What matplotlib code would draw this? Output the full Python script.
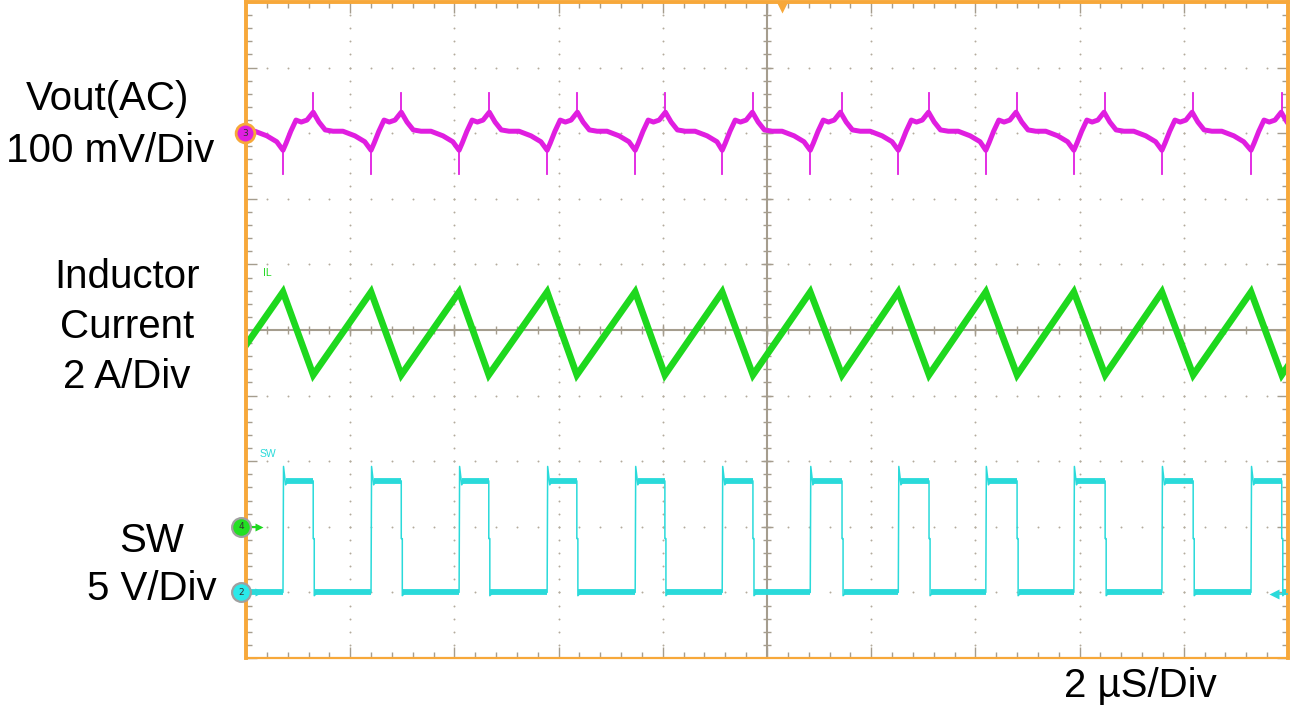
import matplotlib
matplotlib.use("Agg")
import matplotlib.pyplot as plt
import numpy as np

# ---------------- data ----------------
# time base 2 us/div, 10 divisions -> 0..20 us
# switching edges (us); first entry of each list is the off-screen previous cycle
sw_rise_us = [-0.98, 0.71, 2.40, 4.09, 5.78, 7.47, 9.14, 10.83, 12.52, 14.20, 15.89, 17.58, 19.29, 20.98]
sw_fall_us = [-0.40, 1.29, 2.98, 4.66, 6.35, 8.04, 9.73, 11.44, 13.11, 14.80, 16.49, 18.18, 19.88]

# SW node levels (V), 5 V/div
sw_low_v = 0.0
sw_high_v = 8.5
sw_overshoot_v = 9.6
sw_kink_v = 4.1

# inductor current extremes (A), 2 A/div
il_peak_a = 1.16
il_valley_a = -1.37

# Vout(AC) ripple over one switching cycle, relative to the rising edge (us, mV)
vout_t_us = [0.00, 0.06, 0.15, 0.25, 0.35, 0.46, 0.58, 0.69, 0.81, 0.96, 1.15, 1.38, 1.57]
vout_mv = [-26, -15, 3, 20, 17, 20, 32, 17, 5, 3, 3, -4, -13]
vout_dip_mv = -62     # spike at the rising edge
vout_spike_mv = 61    # spike at the falling edge
vout_fall_mv = 32     # level at the falling edge

# channel scales and positions (divisions from screen centre)
vout_mv_per_div, vout_pos = 100.0, 3.0
il_a_per_div, il_pos = 2.0, 0.0
sw_v_per_div, sw_pos = 5.0, -4.0

# colours
c_vout = "#E01EE0"
c_il = "#1ED81E"
c_sw = "#2ADADA"
c_frame = "#F7A83A"
c_grid = "#A59D8E"

# ---------------- figure ----------------
W, H = 1293, 710
fig = plt.figure(figsize=(W / 100, H / 100), dpi=100)
fig.patch.set_facecolor("white")
L, R, T, B = 246, 1288, 2, 658
ax = fig.add_axes([L / W, 1 - B / H, (R - L) / W, (B - T) / H])
ax.set_xlim(0, 20)
ax.set_ylim(-5, 5)

for side, sp in ax.spines.items():
    sp.set_color(c_frame)
    sp.set_linewidth(1.6 if side == "bottom" else 2.8)
    sp.set_zorder(6)

ax.set_xticks(np.arange(0, 20.01, 2))
ax.set_xticks(np.arange(0, 20.01, 0.4), minor=True)
ax.set_yticks(np.arange(-5, 5.01, 1))
ax.set_yticks(np.arange(-5, 5.01, 0.2), minor=True)
ax.tick_params(which="both", direction="in", top=True, right=True, bottom=True, left=True,
               color=c_grid, width=1.0, labelbottom=False, labelleft=False)
ax.tick_params(which="major", length=8)
ax.tick_params(which="minor", length=4)

# grid dots
xm = np.arange(0, 20.01, 0.4)
ym = np.arange(-5, 5.01, 0.2)
c_dot = "#B3AB9C"
for gy in range(-4, 5):
    if gy == 0:
        continue
    ax.plot(xm, np.full_like(xm, gy), ls="none", marker="o", ms=1.4, mec="none", mfc=c_dot, zorder=1)
for gx in range(2, 19, 2):
    if gx == 10:
        continue
    ax.plot(np.full_like(ym, gx), ym, ls="none", marker="o", ms=1.4, mec="none", mfc=c_dot, zorder=1)

# centre cross lines with ticks
ax.axhline(0, color=c_grid, lw=1.5, zorder=1)
ax.axvline(10, color=c_grid, lw=1.5, zorder=1)
ax.plot(xm, np.zeros_like(xm), ls="none", marker="|", ms=6, mew=1.0, color=c_grid, zorder=1)
ax.plot(np.full_like(ym, 10), ym, ls="none", marker="_", ms=6, mew=1.0, color=c_grid, zorder=1)
ax.plot(np.arange(0, 20.01, 2), np.zeros(11), ls="none", marker="|", ms=9, mew=1.0, color=c_grid, zorder=1)
ax.plot(np.full(11, 10), np.arange(-5, 5.01, 1), ls="none", marker="_", ms=9, mew=1.0, color=c_grid, zorder=1)

# ---------------- SW trace ----------------
sx, sy = [], []
for i, r in enumerate(sw_rise_us[:-1]):
    f = sw_fall_us[i]
    sx += [r, r + 0.01, r + 0.05, r + 0.1, f, f, f + 0.02, f + 0.02, f + 0.08]
    sy += [sw_low_v, sw_overshoot_v, sw_high_v - 0.3, sw_high_v, sw_high_v,
           sw_kink_v, sw_kink_v, sw_low_v - 0.25, sw_low_v]
sx.append(sw_rise_us[-1]); sy.append(sw_low_v)
sw_div = np.array(sy) / sw_v_per_div + sw_pos
ax.plot(sx, sw_div, color=c_sw, lw=1.1, zorder=3)
for i, r in enumerate(sw_rise_us[:-1]):
    f = sw_fall_us[i]
    ax.plot([r + 0.05, f], [sw_high_v / sw_v_per_div + sw_pos] * 2, color=c_sw, lw=4.2,
            solid_capstyle="butt", zorder=3)
    ax.plot([f + 0.03, sw_rise_us[i + 1]], [sw_low_v / sw_v_per_div + sw_pos] * 2, color=c_sw,
            lw=4.2, solid_capstyle="butt", zorder=3)

# ---------------- inductor current ----------------
ix, iy = [], []
for i, f in enumerate(sw_fall_us):
    ix += [f, sw_rise_us[i + 1]]
    iy += [il_valley_a, il_peak_a]
il_div = np.array(iy) / il_a_per_div + il_pos
ax.plot(ix, il_div, color=c_il, lw=4.8, solid_joinstyle="miter", zorder=3)

# ---------------- Vout ripple ----------------
vx, vy = [], []
for r in sw_rise_us:
    for dt, v in zip(vout_t_us, vout_mv):
        vx.append(r + dt)
        vy.append(v)
vout_div = np.array(vy) / vout_mv_per_div + vout_pos
ax.plot(vx, vout_div, color=c_vout, lw=3.6, solid_joinstyle="round", zorder=3)
for r in sw_rise_us:
    ax.plot([r, r], [vout_mv[0] / vout_mv_per_div + vout_pos, vout_dip_mv / vout_mv_per_div + vout_pos],
            color=c_vout, lw=1.3, zorder=3)
for f in sw_fall_us:
    ax.plot([f, f], [vout_fall_mv / vout_mv_per_div + vout_pos, vout_spike_mv / vout_mv_per_div + vout_pos],
            color=c_vout, lw=1.3, zorder=3)

# ---------------- scope markers ----------------
def px2x(px):
    return (px - L) / (R - L) * 20

def py2y(py):
    return 5 - (py - T) / (B - T) * 10

ax.text(px2x(263), py2y(276), "IL", color=c_il, fontsize=7.5, family="Liberation Sans", zorder=4)
ax.text(px2x(260), py2y(457), "SW", color=c_sw, fontsize=7.5, family="Liberation Sans", zorder=4)

# channel 3 marker
ax.plot([px2x(245)], [vout_pos], marker="o", ms=13.5, mfc=c_vout, mec=c_frame, mew=2.0, clip_on=False, zorder=8)
ax.text(px2x(245), vout_pos, "3", fontsize=6.5, ha="center", va="center", color="#333333", clip_on=False, zorder=9)
# channel 4 marker (green)
ax.plot([px2x(250), px2x(258)], [-3, -3], color=c_il, lw=1.5, clip_on=False, zorder=7)
ax.plot([px2x(259)], [-3], marker=">", ms=6, color=c_il, mec="none", clip_on=False, zorder=7)
ax.plot([px2x(241)], [-3], marker="o", ms=13.5, mfc="#22E022", mec="#A0A0A0", mew=1.6, clip_on=False, zorder=8)
ax.text(px2x(241), -3, "4", fontsize=6.5, ha="center", va="center", color="#333333", clip_on=False, zorder=9)
# channel 2 marker (cyan)
ax.plot([px2x(250), px2x(258)], [sw_pos, sw_pos], color=c_sw, lw=1.5, clip_on=False, zorder=7)
ax.plot([px2x(259)], [sw_pos], marker=">", ms=6, color=c_sw, mec="none", clip_on=False, zorder=7)
ax.plot([px2x(241)], [sw_pos], marker="o", ms=13.5, mfc="#2AEAEA", mec="#A0A0A0", mew=1.6, clip_on=False, zorder=8)
ax.text(px2x(241), sw_pos, "2", fontsize=6.5, ha="center", va="center", color="#333333", clip_on=False, zorder=9)
# right side reference arrow
ax.plot([px2x(1276), px2x(1288)], [sw_pos - 0.03] * 2, color=c_sw, lw=1.2, zorder=7)
ax.plot([px2x(1274)], [sw_pos - 0.03], marker="<", ms=7, color=c_sw, mec="none", zorder=7)
# trigger marker
ax.plot([px2x(782)], [py2y(7)], marker="v", ms=9, color=c_frame, mec="none", clip_on=False, zorder=8)

# ---------------- labels ----------------
fs = 29
fam = ["Liberation Sans", "DejaVu Sans"]
def ftext(px, py, s):
    fig.text(px / W, 1 - py / H, s, ha="center", va="baseline", fontsize=fs, family=fam, color="black")

ftext(108, 110, "Vout(AC)")
ftext(110, 162, "100 mV/Div")
ftext(127, 288, "Inductor")
ftext(127, 338, "Current")
ftext(127, 388, "2 A/Div")
ftext(152, 552, "SW")
ftext(152, 600, "5 V/Div")
ftext(1140, 697, "2 µS/Div")

fig.savefig("out.png", dpi=100)
